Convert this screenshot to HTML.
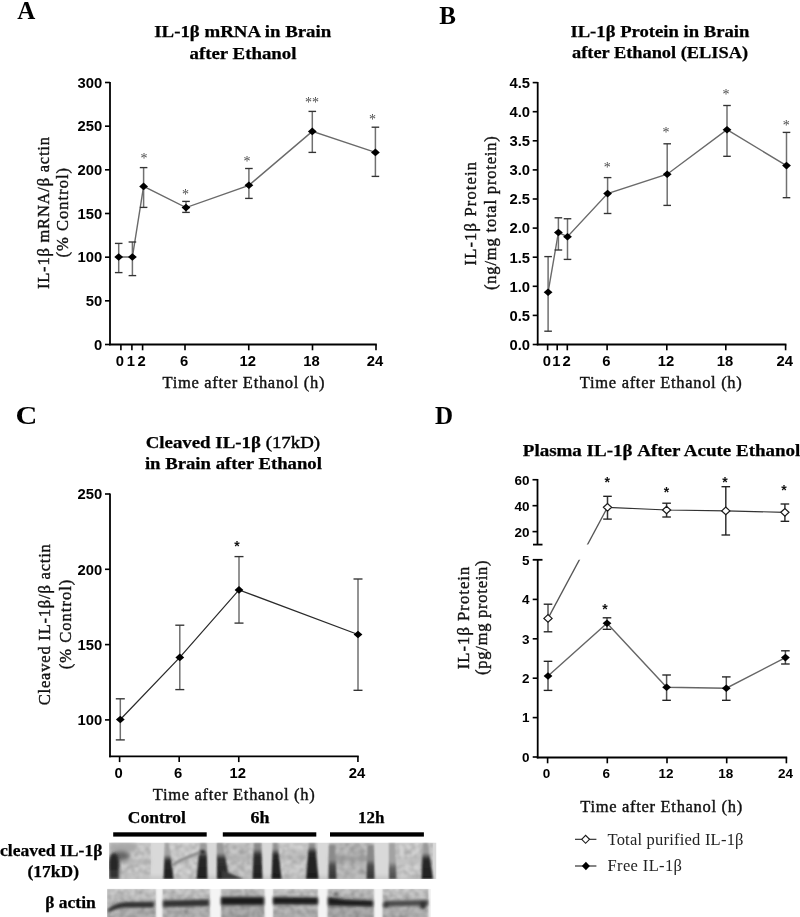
<!DOCTYPE html>
<html><head><meta charset="utf-8"><style>
html,body{margin:0;padding:0;background:#fff;}
svg{display:block;will-change:transform;}
</style></head><body>
<svg width="800" height="917" viewBox="0 0 800 917">
<rect width="800" height="917" fill="#fff"/>
<text x="17.20" y="18.60" font-size="25" font-family='"Liberation Serif", serif' font-weight="700" text-anchor="start" fill="#000" >A</text>
<text x="242.75" y="36.80" font-size="17" font-family='"Liberation Serif", serif' font-weight="700" text-anchor="middle" fill="#000" stroke="#000" stroke-width="0.25" textLength="177.00" lengthAdjust="spacingAndGlyphs" >IL-1β mRNA in Brain</text>
<text x="243.00" y="58.70" font-size="17" font-family='"Liberation Serif", serif' font-weight="700" text-anchor="middle" fill="#000" stroke="#000" stroke-width="0.25" textLength="107.00" lengthAdjust="spacingAndGlyphs" >after Ethanol</text>
<line x1="110.00" y1="82.00" x2="110.00" y2="345.30" stroke="#000" stroke-width="1.8" />
<line x1="105.00" y1="344.50" x2="110.00" y2="344.50" stroke="#000" stroke-width="1.62" />
<text x="102.30" y="349.83" font-size="14.8" font-family='"Liberation Sans", sans-serif' font-weight="700" text-anchor="end" fill="#000" >0</text>
<line x1="105.00" y1="300.83" x2="110.00" y2="300.83" stroke="#000" stroke-width="1.62" />
<text x="102.30" y="306.16" font-size="14.8" font-family='"Liberation Sans", sans-serif' font-weight="700" text-anchor="end" fill="#000" >50</text>
<line x1="105.00" y1="257.17" x2="110.00" y2="257.17" stroke="#000" stroke-width="1.62" />
<text x="102.30" y="262.49" font-size="14.8" font-family='"Liberation Sans", sans-serif' font-weight="700" text-anchor="end" fill="#000" >100</text>
<line x1="105.00" y1="213.50" x2="110.00" y2="213.50" stroke="#000" stroke-width="1.62" />
<text x="102.30" y="218.83" font-size="14.8" font-family='"Liberation Sans", sans-serif' font-weight="700" text-anchor="end" fill="#000" >150</text>
<line x1="105.00" y1="169.83" x2="110.00" y2="169.83" stroke="#000" stroke-width="1.62" />
<text x="102.30" y="175.16" font-size="14.8" font-family='"Liberation Sans", sans-serif' font-weight="700" text-anchor="end" fill="#000" >200</text>
<line x1="105.00" y1="126.17" x2="110.00" y2="126.17" stroke="#000" stroke-width="1.62" />
<text x="102.30" y="131.49" font-size="14.8" font-family='"Liberation Sans", sans-serif' font-weight="700" text-anchor="end" fill="#000" >250</text>
<line x1="105.00" y1="82.50" x2="110.00" y2="82.50" stroke="#000" stroke-width="1.62" />
<text x="102.30" y="87.83" font-size="14.8" font-family='"Liberation Sans", sans-serif' font-weight="700" text-anchor="end" fill="#000" >300</text>
<line x1="109.20" y1="344.50" x2="376.80" y2="344.50" stroke="#000" stroke-width="1.8" />
<line x1="120.90" y1="344.50" x2="120.90" y2="350.30" stroke="#000" stroke-width="1.62" />
<text x="119.90" y="366.20" font-size="14.8" font-family='"Liberation Sans", sans-serif' font-weight="700" text-anchor="middle" fill="#000" >0</text>
<line x1="131.90" y1="344.50" x2="131.90" y2="350.30" stroke="#000" stroke-width="1.62" />
<text x="130.90" y="366.20" font-size="14.8" font-family='"Liberation Sans", sans-serif' font-weight="700" text-anchor="middle" fill="#000" >1</text>
<line x1="142.60" y1="344.50" x2="142.60" y2="350.30" stroke="#000" stroke-width="1.62" />
<text x="141.60" y="366.20" font-size="14.8" font-family='"Liberation Sans", sans-serif' font-weight="700" text-anchor="middle" fill="#000" >2</text>
<line x1="185.00" y1="344.50" x2="185.00" y2="350.30" stroke="#000" stroke-width="1.62" />
<text x="184.00" y="366.20" font-size="14.8" font-family='"Liberation Sans", sans-serif' font-weight="700" text-anchor="middle" fill="#000" >6</text>
<line x1="248.75" y1="344.50" x2="248.75" y2="350.30" stroke="#000" stroke-width="1.62" />
<text x="247.75" y="366.20" font-size="14.8" font-family='"Liberation Sans", sans-serif' font-weight="700" text-anchor="middle" fill="#000" >12</text>
<line x1="312.50" y1="344.50" x2="312.50" y2="350.30" stroke="#000" stroke-width="1.62" />
<text x="311.50" y="366.20" font-size="14.8" font-family='"Liberation Sans", sans-serif' font-weight="700" text-anchor="middle" fill="#000" >18</text>
<line x1="376.00" y1="344.50" x2="376.00" y2="350.30" stroke="#000" stroke-width="1.62" />
<text x="375.00" y="366.20" font-size="14.8" font-family='"Liberation Sans", sans-serif' font-weight="700" text-anchor="middle" fill="#000" >24</text>
<text x="243.50" y="387.60" font-size="16.5" font-family='"Liberation Serif", serif' font-weight="400" text-anchor="middle" fill="#111" stroke="#111" stroke-width="0.4" textLength="162.00" lengthAdjust="spacing" >Time after Ethanol (h)</text>
<text x="49.00" y="213.05" font-size="16.5" font-family='"Liberation Serif", serif' font-weight="400" text-anchor="middle" fill="#111" stroke="#111" stroke-width="0.4" textLength="152.00" lengthAdjust="spacing" transform="rotate(-90 49.00 213.05)" >IL-1β mRNA/β actin</text>
<text x="68.50" y="212.70" font-size="16.5" font-family='"Liberation Serif", serif' font-weight="400" text-anchor="middle" fill="#111" stroke="#111" stroke-width="0.4" textLength="89.50" lengthAdjust="spacing" transform="rotate(-90 68.50 212.70)" >(% Control)</text>
<path d="M118.70 257.00L132.40 257.00L143.60 186.40L186.00 207.60L248.90 185.30L312.30 131.40L375.40 152.40" fill="none" stroke="#6a6a6a" stroke-width="1.4"/>
<line x1="118.70" y1="243.40" x2="118.70" y2="272.60" stroke="#707070" stroke-width="1.5" />
<line x1="114.90" y1="243.40" x2="122.50" y2="243.40" stroke="#333" stroke-width="1.35" />
<line x1="114.90" y1="272.60" x2="122.50" y2="272.60" stroke="#333" stroke-width="1.35" />
<line x1="132.40" y1="242.00" x2="132.40" y2="275.60" stroke="#707070" stroke-width="1.5" />
<line x1="128.60" y1="242.00" x2="136.20" y2="242.00" stroke="#333" stroke-width="1.35" />
<line x1="128.60" y1="275.60" x2="136.20" y2="275.60" stroke="#333" stroke-width="1.35" />
<line x1="143.60" y1="167.60" x2="143.60" y2="207.40" stroke="#707070" stroke-width="1.5" />
<line x1="139.80" y1="167.60" x2="147.40" y2="167.60" stroke="#333" stroke-width="1.35" />
<line x1="139.80" y1="207.40" x2="147.40" y2="207.40" stroke="#333" stroke-width="1.35" />
<line x1="186.00" y1="201.40" x2="186.00" y2="212.40" stroke="#707070" stroke-width="1.5" />
<line x1="182.20" y1="201.40" x2="189.80" y2="201.40" stroke="#333" stroke-width="1.35" />
<line x1="182.20" y1="212.40" x2="189.80" y2="212.40" stroke="#333" stroke-width="1.35" />
<line x1="248.90" y1="168.50" x2="248.90" y2="198.40" stroke="#707070" stroke-width="1.5" />
<line x1="245.10" y1="168.50" x2="252.70" y2="168.50" stroke="#333" stroke-width="1.35" />
<line x1="245.10" y1="198.40" x2="252.70" y2="198.40" stroke="#333" stroke-width="1.35" />
<line x1="312.30" y1="111.40" x2="312.30" y2="152.40" stroke="#707070" stroke-width="1.5" />
<line x1="308.50" y1="111.40" x2="316.10" y2="111.40" stroke="#333" stroke-width="1.35" />
<line x1="308.50" y1="152.40" x2="316.10" y2="152.40" stroke="#333" stroke-width="1.35" />
<line x1="375.40" y1="127.20" x2="375.40" y2="176.40" stroke="#707070" stroke-width="1.5" />
<line x1="371.60" y1="127.20" x2="379.20" y2="127.20" stroke="#333" stroke-width="1.35" />
<line x1="371.60" y1="176.40" x2="379.20" y2="176.40" stroke="#333" stroke-width="1.35" />
<path d="M114.30 257.00L118.70 253.20L123.10 257.00L118.70 260.80Z" fill="#000" stroke="none" stroke-width="1"/>
<path d="M128.00 257.00L132.40 253.20L136.80 257.00L132.40 260.80Z" fill="#000" stroke="none" stroke-width="1"/>
<path d="M139.20 186.40L143.60 182.60L148.00 186.40L143.60 190.20Z" fill="#000" stroke="none" stroke-width="1"/>
<path d="M181.60 207.60L186.00 203.80L190.40 207.60L186.00 211.40Z" fill="#000" stroke="none" stroke-width="1"/>
<path d="M244.50 185.30L248.90 181.50L253.30 185.30L248.90 189.10Z" fill="#000" stroke="none" stroke-width="1"/>
<path d="M307.90 131.40L312.30 127.60L316.70 131.40L312.30 135.20Z" fill="#000" stroke="none" stroke-width="1"/>
<path d="M371.00 152.40L375.40 148.60L379.80 152.40L375.40 156.20Z" fill="#000" stroke="none" stroke-width="1"/>
<text x="144.10" y="162.70" font-size="14" font-family='"Liberation Serif", serif' font-weight="400" text-anchor="middle" fill="#4a4a4a" >*</text>
<text x="185.60" y="199.00" font-size="14" font-family='"Liberation Serif", serif' font-weight="400" text-anchor="middle" fill="#4a4a4a" >*</text>
<text x="247.00" y="166.10" font-size="14" font-family='"Liberation Serif", serif' font-weight="400" text-anchor="middle" fill="#4a4a4a" >*</text>
<text x="312.00" y="106.60" font-size="14" font-family='"Liberation Serif", serif' font-weight="400" text-anchor="middle" fill="#4a4a4a" >**</text>
<text x="372.60" y="123.60" font-size="14" font-family='"Liberation Serif", serif' font-weight="400" text-anchor="middle" fill="#4a4a4a" >*</text>
<text x="439.20" y="24.20" font-size="25" font-family='"Liberation Serif", serif' font-weight="700" text-anchor="start" fill="#000" >B</text>
<text x="659.90" y="37.00" font-size="17" font-family='"Liberation Serif", serif' font-weight="700" text-anchor="middle" fill="#000" stroke="#000" stroke-width="0.25" textLength="179.00" lengthAdjust="spacingAndGlyphs" >IL-1β Protein in Brain</text>
<text x="660.00" y="58.30" font-size="17" font-family='"Liberation Serif", serif' font-weight="700" text-anchor="middle" fill="#000" stroke="#000" stroke-width="0.25" textLength="176.00" lengthAdjust="spacingAndGlyphs" >after Ethanol (ELISA)</text>
<line x1="537.70" y1="82.00" x2="537.70" y2="345.30" stroke="#000" stroke-width="1.8" />
<line x1="532.70" y1="344.50" x2="537.70" y2="344.50" stroke="#000" stroke-width="1.62" />
<text x="530.00" y="349.83" font-size="14.8" font-family='"Liberation Sans", sans-serif' font-weight="700" text-anchor="end" fill="#000" >0.0</text>
<line x1="532.70" y1="315.40" x2="537.70" y2="315.40" stroke="#000" stroke-width="1.62" />
<text x="530.00" y="320.73" font-size="14.8" font-family='"Liberation Sans", sans-serif' font-weight="700" text-anchor="end" fill="#000" >0.5</text>
<line x1="532.70" y1="286.30" x2="537.70" y2="286.30" stroke="#000" stroke-width="1.62" />
<text x="530.00" y="291.63" font-size="14.8" font-family='"Liberation Sans", sans-serif' font-weight="700" text-anchor="end" fill="#000" >1.0</text>
<line x1="532.70" y1="257.20" x2="537.70" y2="257.20" stroke="#000" stroke-width="1.62" />
<text x="530.00" y="262.53" font-size="14.8" font-family='"Liberation Sans", sans-serif' font-weight="700" text-anchor="end" fill="#000" >1.5</text>
<line x1="532.70" y1="228.10" x2="537.70" y2="228.10" stroke="#000" stroke-width="1.62" />
<text x="530.00" y="233.43" font-size="14.8" font-family='"Liberation Sans", sans-serif' font-weight="700" text-anchor="end" fill="#000" >2.0</text>
<line x1="532.70" y1="199.00" x2="537.70" y2="199.00" stroke="#000" stroke-width="1.62" />
<text x="530.00" y="204.33" font-size="14.8" font-family='"Liberation Sans", sans-serif' font-weight="700" text-anchor="end" fill="#000" >2.5</text>
<line x1="532.70" y1="169.90" x2="537.70" y2="169.90" stroke="#000" stroke-width="1.62" />
<text x="530.00" y="175.23" font-size="14.8" font-family='"Liberation Sans", sans-serif' font-weight="700" text-anchor="end" fill="#000" >3.0</text>
<line x1="532.70" y1="140.80" x2="537.70" y2="140.80" stroke="#000" stroke-width="1.62" />
<text x="530.00" y="146.13" font-size="14.8" font-family='"Liberation Sans", sans-serif' font-weight="700" text-anchor="end" fill="#000" >3.5</text>
<line x1="532.70" y1="111.70" x2="537.70" y2="111.70" stroke="#000" stroke-width="1.62" />
<text x="530.00" y="117.03" font-size="14.8" font-family='"Liberation Sans", sans-serif' font-weight="700" text-anchor="end" fill="#000" >4.0</text>
<line x1="532.70" y1="82.60" x2="537.70" y2="82.60" stroke="#000" stroke-width="1.62" />
<text x="530.00" y="87.93" font-size="14.8" font-family='"Liberation Sans", sans-serif' font-weight="700" text-anchor="end" fill="#000" >4.5</text>
<line x1="536.80" y1="344.50" x2="786.40" y2="344.50" stroke="#000" stroke-width="1.8" />
<line x1="547.60" y1="344.50" x2="547.60" y2="350.30" stroke="#000" stroke-width="1.62" />
<text x="546.80" y="366.20" font-size="14.8" font-family='"Liberation Sans", sans-serif' font-weight="700" text-anchor="middle" fill="#000" >0</text>
<line x1="557.20" y1="344.50" x2="557.20" y2="350.30" stroke="#000" stroke-width="1.62" />
<text x="556.40" y="366.20" font-size="14.8" font-family='"Liberation Sans", sans-serif' font-weight="700" text-anchor="middle" fill="#000" >1</text>
<line x1="567.30" y1="344.50" x2="567.30" y2="350.30" stroke="#000" stroke-width="1.62" />
<text x="566.50" y="366.20" font-size="14.8" font-family='"Liberation Sans", sans-serif' font-weight="700" text-anchor="middle" fill="#000" >2</text>
<line x1="607.10" y1="344.50" x2="607.10" y2="350.30" stroke="#000" stroke-width="1.62" />
<text x="606.30" y="366.20" font-size="14.8" font-family='"Liberation Sans", sans-serif' font-weight="700" text-anchor="middle" fill="#000" >6</text>
<line x1="666.80" y1="344.50" x2="666.80" y2="350.30" stroke="#000" stroke-width="1.62" />
<text x="666.00" y="366.20" font-size="14.8" font-family='"Liberation Sans", sans-serif' font-weight="700" text-anchor="middle" fill="#000" >12</text>
<line x1="725.80" y1="344.50" x2="725.80" y2="350.30" stroke="#000" stroke-width="1.62" />
<text x="725.00" y="366.20" font-size="14.8" font-family='"Liberation Sans", sans-serif' font-weight="700" text-anchor="middle" fill="#000" >18</text>
<line x1="785.60" y1="344.50" x2="785.60" y2="350.30" stroke="#000" stroke-width="1.62" />
<text x="784.80" y="366.20" font-size="14.8" font-family='"Liberation Sans", sans-serif' font-weight="700" text-anchor="middle" fill="#000" >24</text>
<text x="660.80" y="387.60" font-size="16.5" font-family='"Liberation Serif", serif' font-weight="400" text-anchor="middle" fill="#111" stroke="#111" stroke-width="0.4" textLength="162.00" lengthAdjust="spacing" >Time after Ethanol (h)</text>
<text x="475.90" y="213.70" font-size="16.5" font-family='"Liberation Serif", serif' font-weight="400" text-anchor="middle" fill="#111" stroke="#111" stroke-width="0.4" textLength="103.50" lengthAdjust="spacing" transform="rotate(-90 475.90 213.70)" >IL-1β Protein</text>
<text x="496.10" y="213.10" font-size="16.5" font-family='"Liberation Serif", serif' font-weight="400" text-anchor="middle" fill="#111" stroke="#111" stroke-width="0.4" textLength="153.80" lengthAdjust="spacing" transform="rotate(-90 496.10 213.10)" >(ng/mg total protein)</text>
<path d="M548.10 292.20L558.40 232.50L567.50 236.75L607.60 193.60L667.20 174.20L727.00 129.70L786.50 165.60" fill="none" stroke="#6a6a6a" stroke-width="1.4"/>
<line x1="548.10" y1="256.60" x2="548.10" y2="331.20" stroke="#707070" stroke-width="1.5" />
<line x1="544.30" y1="256.60" x2="551.90" y2="256.60" stroke="#333" stroke-width="1.35" />
<line x1="544.30" y1="331.20" x2="551.90" y2="331.20" stroke="#333" stroke-width="1.35" />
<line x1="558.40" y1="217.80" x2="558.40" y2="250.00" stroke="#707070" stroke-width="1.5" />
<line x1="554.60" y1="217.80" x2="562.20" y2="217.80" stroke="#333" stroke-width="1.35" />
<line x1="554.60" y1="250.00" x2="562.20" y2="250.00" stroke="#333" stroke-width="1.35" />
<line x1="567.50" y1="218.75" x2="567.50" y2="259.40" stroke="#707070" stroke-width="1.5" />
<line x1="563.70" y1="218.75" x2="571.30" y2="218.75" stroke="#333" stroke-width="1.35" />
<line x1="563.70" y1="259.40" x2="571.30" y2="259.40" stroke="#333" stroke-width="1.35" />
<line x1="607.60" y1="177.60" x2="607.60" y2="213.50" stroke="#707070" stroke-width="1.5" />
<line x1="603.80" y1="177.60" x2="611.40" y2="177.60" stroke="#333" stroke-width="1.35" />
<line x1="603.80" y1="213.50" x2="611.40" y2="213.50" stroke="#333" stroke-width="1.35" />
<line x1="667.20" y1="143.80" x2="667.20" y2="205.40" stroke="#707070" stroke-width="1.5" />
<line x1="663.40" y1="143.80" x2="671.00" y2="143.80" stroke="#333" stroke-width="1.35" />
<line x1="663.40" y1="205.40" x2="671.00" y2="205.40" stroke="#333" stroke-width="1.35" />
<line x1="727.00" y1="105.50" x2="727.00" y2="156.30" stroke="#707070" stroke-width="1.5" />
<line x1="723.20" y1="105.50" x2="730.80" y2="105.50" stroke="#333" stroke-width="1.35" />
<line x1="723.20" y1="156.30" x2="730.80" y2="156.30" stroke="#333" stroke-width="1.35" />
<line x1="786.50" y1="132.40" x2="786.50" y2="197.70" stroke="#707070" stroke-width="1.5" />
<line x1="782.70" y1="132.40" x2="790.30" y2="132.40" stroke="#333" stroke-width="1.35" />
<line x1="782.70" y1="197.70" x2="790.30" y2="197.70" stroke="#333" stroke-width="1.35" />
<path d="M543.70 292.20L548.10 288.40L552.50 292.20L548.10 296.00Z" fill="#000" stroke="none" stroke-width="1"/>
<path d="M554.00 232.50L558.40 228.70L562.80 232.50L558.40 236.30Z" fill="#000" stroke="none" stroke-width="1"/>
<path d="M563.10 236.75L567.50 232.95L571.90 236.75L567.50 240.55Z" fill="#000" stroke="none" stroke-width="1"/>
<path d="M603.20 193.60L607.60 189.80L612.00 193.60L607.60 197.40Z" fill="#000" stroke="none" stroke-width="1"/>
<path d="M662.80 174.20L667.20 170.40L671.60 174.20L667.20 178.00Z" fill="#000" stroke="none" stroke-width="1"/>
<path d="M722.60 129.70L727.00 125.90L731.40 129.70L727.00 133.50Z" fill="#000" stroke="none" stroke-width="1"/>
<path d="M782.10 165.60L786.50 161.80L790.90 165.60L786.50 169.40Z" fill="#000" stroke="none" stroke-width="1"/>
<text x="607.30" y="171.80" font-size="14" font-family='"Liberation Serif", serif' font-weight="400" text-anchor="middle" fill="#4a4a4a" >*</text>
<text x="665.90" y="136.80" font-size="14" font-family='"Liberation Serif", serif' font-weight="400" text-anchor="middle" fill="#4a4a4a" >*</text>
<text x="726.00" y="99.00" font-size="14" font-family='"Liberation Serif", serif' font-weight="400" text-anchor="middle" fill="#4a4a4a" >*</text>
<text x="786.30" y="129.70" font-size="14" font-family='"Liberation Serif", serif' font-weight="400" text-anchor="middle" fill="#4a4a4a" >*</text>
<text x="15.60" y="424.20" font-size="26" font-family='"Liberation Serif", serif' font-weight="700" text-anchor="start" fill="#000" textLength="21.8" lengthAdjust="spacingAndGlyphs">C</text>
<text x="232.9" y="447.8" font-size="17" stroke="#000" stroke-width="0.25" font-family='"Liberation Serif", serif' text-anchor="middle" textLength="174.5" lengthAdjust="spacingAndGlyphs"><tspan font-weight="700">Cleaved IL-1β </tspan><tspan font-weight="400" stroke-width="0.45">(17kD)</tspan></text>
<text x="233.40" y="469.00" font-size="17" font-family='"Liberation Serif", serif' font-weight="700" text-anchor="middle" fill="#000" stroke="#000" stroke-width="0.25" textLength="177.00" lengthAdjust="spacingAndGlyphs" >in Brain after Ethanol</text>
<line x1="110.00" y1="493.50" x2="110.00" y2="757.20" stroke="#000" stroke-width="1.8" />
<line x1="105.00" y1="719.90" x2="110.00" y2="719.90" stroke="#000" stroke-width="1.62" />
<text x="102.30" y="725.23" font-size="14.8" font-family='"Liberation Sans", sans-serif' font-weight="700" text-anchor="end" fill="#000" >100</text>
<line x1="105.00" y1="644.60" x2="110.00" y2="644.60" stroke="#000" stroke-width="1.62" />
<text x="102.30" y="649.93" font-size="14.8" font-family='"Liberation Sans", sans-serif' font-weight="700" text-anchor="end" fill="#000" >150</text>
<line x1="105.00" y1="569.30" x2="110.00" y2="569.30" stroke="#000" stroke-width="1.62" />
<text x="102.30" y="574.63" font-size="14.8" font-family='"Liberation Sans", sans-serif' font-weight="700" text-anchor="end" fill="#000" >200</text>
<line x1="105.00" y1="494.00" x2="110.00" y2="494.00" stroke="#000" stroke-width="1.62" />
<text x="102.30" y="499.33" font-size="14.8" font-family='"Liberation Sans", sans-serif' font-weight="700" text-anchor="end" fill="#000" >250</text>
<line x1="109.20" y1="756.30" x2="358.72" y2="756.30" stroke="#000" stroke-width="1.8" />
<line x1="119.60" y1="756.30" x2="119.60" y2="762.10" stroke="#000" stroke-width="1.62" />
<text x="118.60" y="778.00" font-size="14.8" font-family='"Liberation Sans", sans-serif' font-weight="700" text-anchor="middle" fill="#000" >0</text>
<line x1="179.18" y1="756.30" x2="179.18" y2="762.10" stroke="#000" stroke-width="1.62" />
<text x="178.18" y="778.00" font-size="14.8" font-family='"Liberation Sans", sans-serif' font-weight="700" text-anchor="middle" fill="#000" >6</text>
<line x1="238.76" y1="756.30" x2="238.76" y2="762.10" stroke="#000" stroke-width="1.62" />
<text x="237.76" y="778.00" font-size="14.8" font-family='"Liberation Sans", sans-serif' font-weight="700" text-anchor="middle" fill="#000" >12</text>
<line x1="357.92" y1="756.30" x2="357.92" y2="762.10" stroke="#000" stroke-width="1.62" />
<text x="356.92" y="778.00" font-size="14.8" font-family='"Liberation Sans", sans-serif' font-weight="700" text-anchor="middle" fill="#000" >24</text>
<text x="233.70" y="800.00" font-size="16.5" font-family='"Liberation Serif", serif' font-weight="400" text-anchor="middle" fill="#111" stroke="#111" stroke-width="0.4" textLength="162.00" lengthAdjust="spacing" >Time after Ethanol (h)</text>
<text x="50.00" y="624.70" font-size="16.5" font-family='"Liberation Serif", serif' font-weight="400" text-anchor="middle" fill="#111" stroke="#111" stroke-width="0.4" textLength="161.00" lengthAdjust="spacing" transform="rotate(-90 50.00 624.70)" >Cleaved IL-1β/β actin</text>
<text x="70.60" y="624.50" font-size="16.5" font-family='"Liberation Serif", serif' font-weight="400" text-anchor="middle" fill="#111" stroke="#111" stroke-width="0.4" textLength="89.70" lengthAdjust="spacing" transform="rotate(-90 70.60 624.50)" >(% Control)</text>
<path d="M120.30 719.50L179.80 657.40L239.00 589.90L358.00 634.50" fill="none" stroke="#2a2a2a" stroke-width="1.25"/>
<line x1="120.30" y1="698.80" x2="120.30" y2="739.90" stroke="#707070" stroke-width="1.5" />
<line x1="115.80" y1="698.80" x2="124.80" y2="698.80" stroke="#333" stroke-width="1.35" />
<line x1="115.80" y1="739.90" x2="124.80" y2="739.90" stroke="#333" stroke-width="1.35" />
<line x1="179.80" y1="625.20" x2="179.80" y2="689.60" stroke="#707070" stroke-width="1.5" />
<line x1="175.30" y1="625.20" x2="184.30" y2="625.20" stroke="#333" stroke-width="1.35" />
<line x1="175.30" y1="689.60" x2="184.30" y2="689.60" stroke="#333" stroke-width="1.35" />
<line x1="239.00" y1="556.60" x2="239.00" y2="623.10" stroke="#707070" stroke-width="1.5" />
<line x1="234.50" y1="556.60" x2="243.50" y2="556.60" stroke="#333" stroke-width="1.35" />
<line x1="234.50" y1="623.10" x2="243.50" y2="623.10" stroke="#333" stroke-width="1.35" />
<line x1="358.00" y1="579.00" x2="358.00" y2="690.30" stroke="#707070" stroke-width="1.5" />
<line x1="353.50" y1="579.00" x2="362.50" y2="579.00" stroke="#333" stroke-width="1.35" />
<line x1="353.50" y1="690.30" x2="362.50" y2="690.30" stroke="#333" stroke-width="1.35" />
<path d="M115.90 719.50L120.30 715.70L124.70 719.50L120.30 723.30Z" fill="#000" stroke="none" stroke-width="1"/>
<path d="M175.40 657.40L179.80 653.60L184.20 657.40L179.80 661.20Z" fill="#000" stroke="none" stroke-width="1"/>
<path d="M234.60 589.90L239.00 586.10L243.40 589.90L239.00 593.70Z" fill="#000" stroke="none" stroke-width="1"/>
<path d="M353.60 634.50L358.00 630.70L362.40 634.50L358.00 638.30Z" fill="#000" stroke="none" stroke-width="1"/>
<text x="237.10" y="551.20" font-size="14" font-family='"Liberation Sans", sans-serif' font-weight="700" text-anchor="middle" fill="#111" >*</text>
<text x="435.00" y="424.20" font-size="25" font-family='"Liberation Serif", serif' font-weight="700" text-anchor="start" fill="#000" >D</text>
<text x="661.60" y="455.60" font-size="17" font-family='"Liberation Serif", serif' font-weight="700" text-anchor="middle" fill="#000" stroke="#000" stroke-width="0.25" textLength="277.60" lengthAdjust="spacingAndGlyphs" >Plasma IL-1β After Acute Ethanol</text>
<line x1="537.50" y1="479.00" x2="537.50" y2="544.60" stroke="#000" stroke-width="1.8" />
<line x1="533.00" y1="544.60" x2="542.50" y2="544.60" stroke="#000" stroke-width="1.8" />
<line x1="532.50" y1="531.62" x2="537.50" y2="531.62" stroke="#000" stroke-width="1.62" />
<text x="529.60" y="536.51" font-size="13.5" font-family='"Liberation Sans", sans-serif' font-weight="700" text-anchor="end" fill="#000" >20</text>
<line x1="532.50" y1="505.68" x2="537.50" y2="505.68" stroke="#000" stroke-width="1.62" />
<text x="529.60" y="510.56" font-size="13.5" font-family='"Liberation Sans", sans-serif' font-weight="700" text-anchor="end" fill="#000" >40</text>
<line x1="532.50" y1="479.73" x2="537.50" y2="479.73" stroke="#000" stroke-width="1.62" />
<text x="529.60" y="484.61" font-size="13.5" font-family='"Liberation Sans", sans-serif' font-weight="700" text-anchor="end" fill="#000" >60</text>
<line x1="537.70" y1="559.80" x2="537.70" y2="758.40" stroke="#000" stroke-width="1.8" />
<line x1="532.70" y1="559.80" x2="542.50" y2="559.80" stroke="#000" stroke-width="1.8" />
<line x1="532.70" y1="757.00" x2="537.70" y2="757.00" stroke="#000" stroke-width="1.62" />
<line x1="532.70" y1="717.60" x2="537.70" y2="717.60" stroke="#000" stroke-width="1.62" />
<line x1="532.70" y1="678.20" x2="537.70" y2="678.20" stroke="#000" stroke-width="1.62" />
<line x1="532.70" y1="638.80" x2="537.70" y2="638.80" stroke="#000" stroke-width="1.62" />
<line x1="532.70" y1="599.40" x2="537.70" y2="599.40" stroke="#000" stroke-width="1.62" />
<text x="529.60" y="761.88" font-size="13.5" font-family='"Liberation Sans", sans-serif' font-weight="700" text-anchor="end" fill="#000" >0</text>
<text x="529.60" y="722.48" font-size="13.5" font-family='"Liberation Sans", sans-serif' font-weight="700" text-anchor="end" fill="#000" >1</text>
<text x="529.60" y="683.08" font-size="13.5" font-family='"Liberation Sans", sans-serif' font-weight="700" text-anchor="end" fill="#000" >2</text>
<text x="529.60" y="643.68" font-size="13.5" font-family='"Liberation Sans", sans-serif' font-weight="700" text-anchor="end" fill="#000" >3</text>
<text x="529.60" y="604.28" font-size="13.5" font-family='"Liberation Sans", sans-serif' font-weight="700" text-anchor="end" fill="#000" >4</text>
<text x="529.60" y="564.88" font-size="13.5" font-family='"Liberation Sans", sans-serif' font-weight="700" text-anchor="end" fill="#000" >5</text>
<line x1="536.80" y1="757.50" x2="787.20" y2="757.50" stroke="#000" stroke-width="1.8" />
<line x1="547.60" y1="757.50" x2="547.60" y2="763.30" stroke="#000" stroke-width="1.62" />
<text x="546.60" y="778.20" font-size="13.5" font-family='"Liberation Sans", sans-serif' font-weight="700" text-anchor="middle" fill="#000" >0</text>
<line x1="607.30" y1="757.50" x2="607.30" y2="763.30" stroke="#000" stroke-width="1.62" />
<text x="606.30" y="778.20" font-size="13.5" font-family='"Liberation Sans", sans-serif' font-weight="700" text-anchor="middle" fill="#000" >6</text>
<line x1="667.00" y1="757.50" x2="667.00" y2="763.30" stroke="#000" stroke-width="1.62" />
<text x="666.00" y="778.20" font-size="13.5" font-family='"Liberation Sans", sans-serif' font-weight="700" text-anchor="middle" fill="#000" >12</text>
<line x1="726.70" y1="757.50" x2="726.70" y2="763.30" stroke="#000" stroke-width="1.62" />
<text x="725.70" y="778.20" font-size="13.5" font-family='"Liberation Sans", sans-serif' font-weight="700" text-anchor="middle" fill="#000" >18</text>
<line x1="786.40" y1="757.50" x2="786.40" y2="763.30" stroke="#000" stroke-width="1.62" />
<text x="785.40" y="778.20" font-size="13.5" font-family='"Liberation Sans", sans-serif' font-weight="700" text-anchor="middle" fill="#000" >24</text>
<text x="661.20" y="812.00" font-size="16.5" font-family='"Liberation Serif", serif' font-weight="400" text-anchor="middle" fill="#111" stroke="#111" stroke-width="0.4" textLength="162.00" lengthAdjust="spacing" >Time after Ethanol (h)</text>
<text x="468.50" y="618.00" font-size="16.5" font-family='"Liberation Serif", serif' font-weight="400" text-anchor="middle" fill="#111" stroke="#111" stroke-width="0.4" textLength="102.50" lengthAdjust="spacing" transform="rotate(-90 468.50 618.00)" >IL-1β Protein</text>
<text x="487.40" y="617.65" font-size="16.5" font-family='"Liberation Serif", serif' font-weight="400" text-anchor="middle" fill="#111" stroke="#111" stroke-width="0.4" textLength="114.50" lengthAdjust="spacing" transform="rotate(-90 487.40 617.65)" >(pg/mg protein)</text>
<defs><clipPath id="brk"><rect x="530" y="400" width="300" height="144.6"/><rect x="530" y="559.8" width="300" height="300"/></clipPath></defs>
<path d="M548 618.4L607.5 507.3" stroke="#555" stroke-width="1.3" clip-path="url(#brk)"/>
<path d="M607.50 507.30L666.60 510.00L725.80 510.90L784.90 512.30" fill="none" stroke="#333" stroke-width="1.2"/>
<line x1="607.50" y1="496.30" x2="607.50" y2="519.10" stroke="#333" stroke-width="1.5" />
<line x1="603.20" y1="496.30" x2="611.80" y2="496.30" stroke="#222" stroke-width="1.35" />
<line x1="603.20" y1="519.10" x2="611.80" y2="519.10" stroke="#222" stroke-width="1.35" />
<line x1="666.60" y1="503.20" x2="666.60" y2="517.00" stroke="#333" stroke-width="1.5" />
<line x1="662.30" y1="503.20" x2="670.90" y2="503.20" stroke="#222" stroke-width="1.35" />
<line x1="662.30" y1="517.00" x2="670.90" y2="517.00" stroke="#222" stroke-width="1.35" />
<line x1="725.80" y1="486.70" x2="725.80" y2="535.00" stroke="#333" stroke-width="1.5" />
<line x1="721.50" y1="486.70" x2="730.10" y2="486.70" stroke="#222" stroke-width="1.35" />
<line x1="721.50" y1="535.00" x2="730.10" y2="535.00" stroke="#222" stroke-width="1.35" />
<line x1="784.90" y1="504.00" x2="784.90" y2="521.30" stroke="#333" stroke-width="1.5" />
<line x1="780.60" y1="504.00" x2="789.20" y2="504.00" stroke="#222" stroke-width="1.35" />
<line x1="780.60" y1="521.30" x2="789.20" y2="521.30" stroke="#222" stroke-width="1.35" />
<path d="M603.40 507.30L607.50 503.50L611.60 507.30L607.50 511.10Z" fill="#fff" stroke="#1a1a1a" stroke-width="1.2"/>
<path d="M662.50 510.00L666.60 506.20L670.70 510.00L666.60 513.80Z" fill="#fff" stroke="#1a1a1a" stroke-width="1.2"/>
<path d="M721.70 510.90L725.80 507.10L729.90 510.90L725.80 514.70Z" fill="#fff" stroke="#1a1a1a" stroke-width="1.2"/>
<path d="M780.80 512.30L784.90 508.50L789.00 512.30L784.90 516.10Z" fill="#fff" stroke="#1a1a1a" stroke-width="1.2"/>
<line x1="548.00" y1="604.20" x2="548.00" y2="631.80" stroke="#555" stroke-width="1.5" />
<line x1="543.70" y1="604.20" x2="552.30" y2="604.20" stroke="#222" stroke-width="1.35" />
<line x1="543.70" y1="631.80" x2="552.30" y2="631.80" stroke="#222" stroke-width="1.35" />
<path d="M543.90 618.40L548.00 614.60L552.10 618.40L548.00 622.20Z" fill="#fff" stroke="#1a1a1a" stroke-width="1.2"/>
<path d="M548.00 676.00L607.00 623.30L666.60 687.30L726.30 688.20L785.40 657.60" fill="none" stroke="#666" stroke-width="1.4"/>
<line x1="548.00" y1="661.30" x2="548.00" y2="690.40" stroke="#555" stroke-width="1.5" />
<line x1="543.70" y1="661.30" x2="552.30" y2="661.30" stroke="#222" stroke-width="1.35" />
<line x1="543.70" y1="690.40" x2="552.30" y2="690.40" stroke="#222" stroke-width="1.35" />
<line x1="607.00" y1="617.80" x2="607.00" y2="629.30" stroke="#555" stroke-width="1.5" />
<line x1="602.70" y1="617.80" x2="611.30" y2="617.80" stroke="#222" stroke-width="1.35" />
<line x1="602.70" y1="629.30" x2="611.30" y2="629.30" stroke="#222" stroke-width="1.35" />
<line x1="666.60" y1="675.00" x2="666.60" y2="700.30" stroke="#555" stroke-width="1.5" />
<line x1="662.30" y1="675.00" x2="670.90" y2="675.00" stroke="#222" stroke-width="1.35" />
<line x1="662.30" y1="700.30" x2="670.90" y2="700.30" stroke="#222" stroke-width="1.35" />
<line x1="726.30" y1="676.90" x2="726.30" y2="700.30" stroke="#555" stroke-width="1.5" />
<line x1="722.00" y1="676.90" x2="730.60" y2="676.90" stroke="#222" stroke-width="1.35" />
<line x1="722.00" y1="700.30" x2="730.60" y2="700.30" stroke="#222" stroke-width="1.35" />
<line x1="785.40" y1="650.80" x2="785.40" y2="664.00" stroke="#555" stroke-width="1.5" />
<line x1="781.10" y1="650.80" x2="789.70" y2="650.80" stroke="#222" stroke-width="1.35" />
<line x1="781.10" y1="664.00" x2="789.70" y2="664.00" stroke="#222" stroke-width="1.35" />
<path d="M543.60 676.00L548.00 672.20L552.40 676.00L548.00 679.80Z" fill="#000" stroke="none" stroke-width="1"/>
<path d="M602.60 623.30L607.00 619.50L611.40 623.30L607.00 627.10Z" fill="#000" stroke="none" stroke-width="1"/>
<path d="M662.20 687.30L666.60 683.50L671.00 687.30L666.60 691.10Z" fill="#000" stroke="none" stroke-width="1"/>
<path d="M721.90 688.20L726.30 684.40L730.70 688.20L726.30 692.00Z" fill="#000" stroke="none" stroke-width="1"/>
<path d="M781.00 657.60L785.40 653.80L789.80 657.60L785.40 661.40Z" fill="#000" stroke="none" stroke-width="1"/>
<text x="607.30" y="486.90" font-size="14" font-family='"Liberation Sans", sans-serif' font-weight="700" text-anchor="middle" fill="#111" >*</text>
<text x="666.40" y="496.90" font-size="14" font-family='"Liberation Sans", sans-serif' font-weight="700" text-anchor="middle" fill="#111" >*</text>
<text x="725.00" y="486.50" font-size="14" font-family='"Liberation Sans", sans-serif' font-weight="700" text-anchor="middle" fill="#111" >*</text>
<text x="784.10" y="495.20" font-size="14" font-family='"Liberation Sans", sans-serif' font-weight="700" text-anchor="middle" fill="#111" >*</text>
<text x="605.10" y="614.00" font-size="14" font-family='"Liberation Sans", sans-serif' font-weight="700" text-anchor="middle" fill="#111" >*</text>
<line x1="575.00" y1="839.30" x2="596.40" y2="839.30" stroke="#222" stroke-width="1.1" />
<path d="M581.70 839.30L585.60 835.30L589.50 839.30L585.60 843.30Z" fill="#fff" stroke="#1a1a1a" stroke-width="1.15"/>
<text x="607.50" y="845.00" font-size="16.5" font-family='"Liberation Serif", serif' font-weight="400" text-anchor="start" fill="#222" textLength="136.00" lengthAdjust="spacing" >Total purified IL-1β</text>
<line x1="575.00" y1="866.00" x2="596.40" y2="866.00" stroke="#222" stroke-width="1.1" />
<path d="M581.90 866.00L585.90 861.70L589.90 866.00L585.90 870.30Z" fill="#000" stroke="none" stroke-width="1"/>
<text x="607.50" y="871.30" font-size="16.5" font-family='"Liberation Serif", serif' font-weight="400" text-anchor="start" fill="#222" textLength="74.50" lengthAdjust="spacing" >Free IL-1β</text>
<text x="156.80" y="823.00" font-size="16.5" font-family='"Liberation Serif", serif' font-weight="700" text-anchor="middle" fill="#000" stroke="#000" stroke-width="0.25" textLength="58.00" lengthAdjust="spacingAndGlyphs" >Control</text>
<text x="260.00" y="823.00" font-size="16.5" font-family='"Liberation Serif", serif' font-weight="700" text-anchor="middle" fill="#000" stroke="#000" stroke-width="0.25" textLength="19.00" lengthAdjust="spacingAndGlyphs" >6h</text>
<text x="371.20" y="823.00" font-size="16.5" font-family='"Liberation Serif", serif' font-weight="700" text-anchor="middle" fill="#000" stroke="#000" stroke-width="0.25" textLength="26.50" lengthAdjust="spacingAndGlyphs" >12h</text>
<rect x="113.2" y="832.3" width="93.5" height="4.3" fill="#000"/>
<rect x="222.8" y="832.3" width="93.5" height="4.3" fill="#000"/>
<rect x="330" y="832.3" width="93.9" height="4.3" fill="#000"/>
<text x="51.20" y="856.00" font-size="16.5" font-family='"Liberation Serif", serif' font-weight="700" text-anchor="middle" fill="#000" stroke="#000" stroke-width="0.25" textLength="102.50" lengthAdjust="spacingAndGlyphs" >cleaved IL-1β</text>
<text x="53.30" y="876.80" font-size="16.5" font-family='"Liberation Serif", serif' font-weight="700" text-anchor="middle" fill="#000" stroke="#000" stroke-width="0.25" textLength="51.50" lengthAdjust="spacingAndGlyphs" >(17kD)</text>
<text x="70.50" y="908.40" font-size="16.5" font-family='"Liberation Serif", serif' font-weight="700" text-anchor="middle" fill="#000" stroke="#000" stroke-width="0.25" textLength="50.50" lengthAdjust="spacingAndGlyphs" >β actin</text>

<defs>
<filter id="b1" x="-20%" y="-20%" width="140%" height="140%"><feGaussianBlur stdDeviation="1.0"/></filter>
<filter id="b15" x="-20%" y="-50%" width="140%" height="200%"><feGaussianBlur stdDeviation="1.5"/></filter>
<filter id="b2" x="-20%" y="-50%" width="140%" height="200%"><feGaussianBlur stdDeviation="2"/></filter>
<filter id="b3" x="-30%" y="-30%" width="160%" height="160%"><feGaussianBlur stdDeviation="3"/></filter>
<filter id="tex" x="0" y="0" width="100%" height="100%">
 <feTurbulence type="fractalNoise" baseFrequency="0.2" numOctaves="3" seed="11" result="n"/>
 <feColorMatrix in="n" type="matrix" values="0 0 0 0 0  0 0 0 0 0  0 0 0 0 0  1.4 0 0 0 -0.45" result="a"/>
 <feGaussianBlur in="a" stdDeviation="0.9" result="ab"/>
 <feComposite in="ab" in2="SourceGraphic" operator="in"/>
</filter>
<linearGradient id="gB" gradientUnits="userSpaceOnUse" x1="0" y1="889" x2="0" y2="917"><stop offset="0" stop-color="#cfcfcf"/><stop offset="0.4" stop-color="#c4c4c4"/><stop offset="1" stop-color="#b4b4b4"/></linearGradient>
<linearGradient id="gB2" gradientUnits="userSpaceOnUse" x1="0" y1="889" x2="0" y2="917"><stop offset="0" stop-color="#c6c6c6"/><stop offset="0.4" stop-color="#b8b8b8"/><stop offset="1" stop-color="#aaaaaa"/></linearGradient>
<linearGradient id="gE" x1="0" y1="0" x2="0" y2="1"><stop offset="0" stop-color="#8a8a8a"/><stop offset="0.45" stop-color="#555"/><stop offset="1" stop-color="#1e1e1e"/></linearGradient>
<linearGradient id="gE2" x1="0" y1="0" x2="0" y2="1"><stop offset="0" stop-color="#444"/><stop offset="0.5" stop-color="#2a2a2a"/><stop offset="1" stop-color="#1a1a1a"/></linearGradient>
<linearGradient id="gL" x1="0" y1="0" x2="0" y2="1"><stop offset="0" stop-color="#9a9a9a"/><stop offset="1" stop-color="#7a7a7a"/></linearGradient>
<clipPath id="ctop"><rect x="109" y="842.5" width="327.5" height="36.5"/></clipPath>
<clipPath id="cbot"><rect x="107" y="888.8" width="324" height="28.2"/></clipPath>
</defs>
<g clip-path="url(#ctop)">
<rect x="109" y="842.5" width="327.5" height="36.5" fill="#d9d9d9"/>
<g filter="url(#b1)">
<rect x="110" y="843" width="41" height="36" fill="#d0d0d0"/>
<rect x="164" y="843" width="43" height="36" fill="#d6d6d6"/>
<rect x="217" y="843" width="45" height="36" fill="#cbcbcb"/>
<rect x="272" y="843" width="46" height="36" fill="#d2d2d2"/>
<rect x="329" y="843" width="45" height="36" fill="#c0c0c0"/>
<rect x="389" y="843" width="44" height="36" fill="#d4d4d4"/>
</g>
<g opacity="0.3">
<rect x="110" y="843" width="41" height="36" fill="#000" filter="url(#tex)"/>
<rect x="164" y="843" width="43" height="36" fill="#000" filter="url(#tex)"/>
<rect x="217" y="843" width="45" height="36" fill="#000" filter="url(#tex)"/>
<rect x="272" y="843" width="46" height="36" fill="#000" filter="url(#tex)"/>
<rect x="329" y="843" width="45" height="36" fill="#000" filter="url(#tex)"/>
<rect x="389" y="843" width="44" height="36" fill="#000" filter="url(#tex)"/>
</g>
<defs><linearGradient id="e2l" gradientUnits="userSpaceOnUse" x1="0" y1="843" x2="0" y2="879"><stop offset="0" stop-color="#a0a0a0"/><stop offset="0.32" stop-color="#a0a0a0"/><stop offset="0.49" stop-color="#2a2a2a"/><stop offset="1" stop-color="#1e1e1e"/></linearGradient><linearGradient id="e2r" gradientUnits="userSpaceOnUse" x1="0" y1="843" x2="0" y2="879"><stop offset="0" stop-color="#9a9a9a"/><stop offset="0.21" stop-color="#9a9a9a"/><stop offset="0.38" stop-color="#2a2a2a"/><stop offset="1" stop-color="#1e1e1e"/></linearGradient><linearGradient id="e3l" gradientUnits="userSpaceOnUse" x1="0" y1="843" x2="0" y2="879"><stop offset="0" stop-color="#999999"/><stop offset="0.27" stop-color="#999999"/><stop offset="0.44" stop-color="#333333"/><stop offset="1" stop-color="#222"/></linearGradient><linearGradient id="e3r" gradientUnits="userSpaceOnUse" x1="0" y1="843" x2="0" y2="879"><stop offset="0" stop-color="#8a8a8a"/><stop offset="0.16" stop-color="#8a8a8a"/><stop offset="0.33" stop-color="#2e2e2e"/><stop offset="1" stop-color="#222"/></linearGradient><linearGradient id="e4l" gradientUnits="userSpaceOnUse" x1="0" y1="843" x2="0" y2="879"><stop offset="0" stop-color="#929292"/><stop offset="0.16" stop-color="#929292"/><stop offset="0.33" stop-color="#262626"/><stop offset="1" stop-color="#1e1e1e"/></linearGradient><linearGradient id="e4r" gradientUnits="userSpaceOnUse" x1="0" y1="843" x2="0" y2="879"><stop offset="0" stop-color="#8e8e8e"/><stop offset="0.10" stop-color="#8e8e8e"/><stop offset="0.27" stop-color="#262626"/><stop offset="1" stop-color="#1e1e1e"/></linearGradient><linearGradient id="e5l" gradientUnits="userSpaceOnUse" x1="0" y1="843" x2="0" y2="879"><stop offset="0" stop-color="#8a8a8a"/><stop offset="0.46" stop-color="#8a8a8a"/><stop offset="0.63" stop-color="#4a4a4a"/><stop offset="1" stop-color="#333"/></linearGradient><linearGradient id="e5r" gradientUnits="userSpaceOnUse" x1="0" y1="843" x2="0" y2="879"><stop offset="0" stop-color="#888888"/><stop offset="0.46" stop-color="#888888"/><stop offset="0.63" stop-color="#4a4a4a"/><stop offset="1" stop-color="#333"/></linearGradient><linearGradient id="e6l" gradientUnits="userSpaceOnUse" x1="0" y1="843" x2="0" y2="879"><stop offset="0" stop-color="#a2a2a2"/><stop offset="0.52" stop-color="#a2a2a2"/><stop offset="0.69" stop-color="#666666"/><stop offset="1" stop-color="#4a4a4a"/></linearGradient><linearGradient id="e6r" gradientUnits="userSpaceOnUse" x1="0" y1="843" x2="0" y2="879"><stop offset="0" stop-color="#9a9a9a"/><stop offset="0.27" stop-color="#9a9a9a"/><stop offset="0.44" stop-color="#2a2a2a"/><stop offset="1" stop-color="#1e1e1e"/></linearGradient></defs>
<g filter="url(#b2)">
<rect x="110" y="843" width="26" height="9" fill="#a8a8a8"/>
<ellipse cx="121" cy="856" rx="9" ry="5" fill="#666"/>
<rect x="124" y="860.5" width="26" height="3" fill="#b2b2b2"/>
<rect x="218" y="856" width="42" height="3.5" fill="#ababab"/>
<rect x="281" y="856" width="27" height="3" fill="#a8a8a8"/>
<rect x="330" y="856.5" width="42" height="4" fill="#929292"/>
<rect x="394" y="860" width="28" height="3" fill="#b4b4b4"/>
<rect x="110" y="877" width="322" height="2.5" fill="#b8b8b8"/>
<circle cx="355" cy="849" r="3" fill="none" stroke="#9a9a9a" stroke-width="1.2"/>
</g>
<g filter="url(#b15)">
<ellipse cx="114" cy="865" rx="5.5" ry="12" fill="#262626"/>
<rect x="109" y="870" width="10" height="9" fill="#333"/>
</g>
<g filter="url(#b1)">
<path d="M165 843 L169 843 L173.5 879 L163.5 879Z" fill="url(#e2l)"/>
<path d="M200 843 L206.5 843 L207.5 879 L196.5 879Z" fill="url(#e2r)"/>
<ellipse cx="202.5" cy="851.5" rx="3" ry="2" fill="#333"/>
<path d="M172 864 C180 858 188 856 200 851 L200.5 853.5 C189 858.5 181 861 173 866.5Z" fill="#8a8a8a"/>
<path d="M217 843 L223 843 L229 879 L217 879Z" fill="url(#e3l)"/>
<path d="M222 870 L234 875 L244 879 L222 879Z" fill="#3a3a3a"/>
<path d="M254 843 L261 843 L262.5 879 L252.5 879Z" fill="url(#e3r)"/>
<path d="M273 843 L277.5 843 L281.5 879 L271.5 879Z" fill="url(#e4l)"/>
<path d="M309 843 L315 843 L318.5 879 L306 879Z" fill="url(#e4r)"/>
<path d="M329 845 L335 845 L336.5 879 L328.5 879Z" fill="url(#e5l)"/>
<path d="M367.5 845 L373.5 845 L374.5 879 L366.5 879Z" fill="url(#e5r)"/>
<path d="M389 843 L395 843 L396.5 879 L389 879Z" fill="url(#e6l)"/>
<path d="M423 843 L428 843 L433 879 L421.5 879Z" fill="url(#e6r)"/>
</g>
</g>
</g>
<g clip-path="url(#cbot)">
<rect x="107" y="888.8" width="324" height="28.2" fill="#f4f4f4"/>
<g filter="url(#b1)">
<rect x="107" y="888.8" width="49" height="30" fill="url(#gB)"/>
<rect x="162.5" y="888.8" width="47.5" height="30" fill="url(#gB)"/>
<rect x="221" y="888.8" width="43.5" height="30" fill="url(#gB2)"/>
<rect x="273" y="888.8" width="45" height="30" fill="url(#gB)"/>
<rect x="327.5" y="888.8" width="46.5" height="30" fill="url(#gB2)"/>
<rect x="382.5" y="888.8" width="46" height="30" fill="url(#gB)"/>
</g>
<g opacity="0.3">
<rect x="107" y="888.8" width="49" height="30" fill="#000" filter="url(#tex)"/>
<rect x="162.5" y="888.8" width="47.5" height="30" fill="#000" filter="url(#tex)"/>
<rect x="221" y="888.8" width="43.5" height="30" fill="#000" filter="url(#tex)"/>
<rect x="273" y="888.8" width="45" height="30" fill="#000" filter="url(#tex)"/>
<rect x="327.5" y="888.8" width="46.5" height="30" fill="#000" filter="url(#tex)"/>
<rect x="382.5" y="888.8" width="46" height="30" fill="#000" filter="url(#tex)"/>
</g>
<g filter="url(#b15)">
<path d="M108 909 Q116 902.5 126 902 L154 902 L154 907.5 L126 907.5 Q116 908 108 912.5Z" fill="#2e2e2e"/>
<path d="M163 900.5 L209 899.5 L209 906 L163 907Z" fill="#333"/>
<path d="M221 897 L264 897 L264 905 L221 905Z" fill="#1a1a1a"/>
<path d="M273 897 L318 897.5 L318 904.5 L273 904.5Z" fill="#1e1e1e"/>
<path d="M328 897 L345 899.5 L373 900.5 L373 906.5 L345 906 L328 905.5Z" fill="#1c1c1c"/>
<path d="M384 901 L428 900 L428 905.5 L384 906.5Z" fill="#4a4a4a"/>
<circle cx="336" cy="894" r="2" fill="#555"/>
<circle cx="186" cy="912" r="1.6" fill="#666"/>
<ellipse cx="423" cy="905" rx="3" ry="4" fill="#333"/>
<ellipse cx="386" cy="905" rx="3" ry="3" fill="#3a3a3a"/>
</g>
</g>

</svg>
</body></html>
